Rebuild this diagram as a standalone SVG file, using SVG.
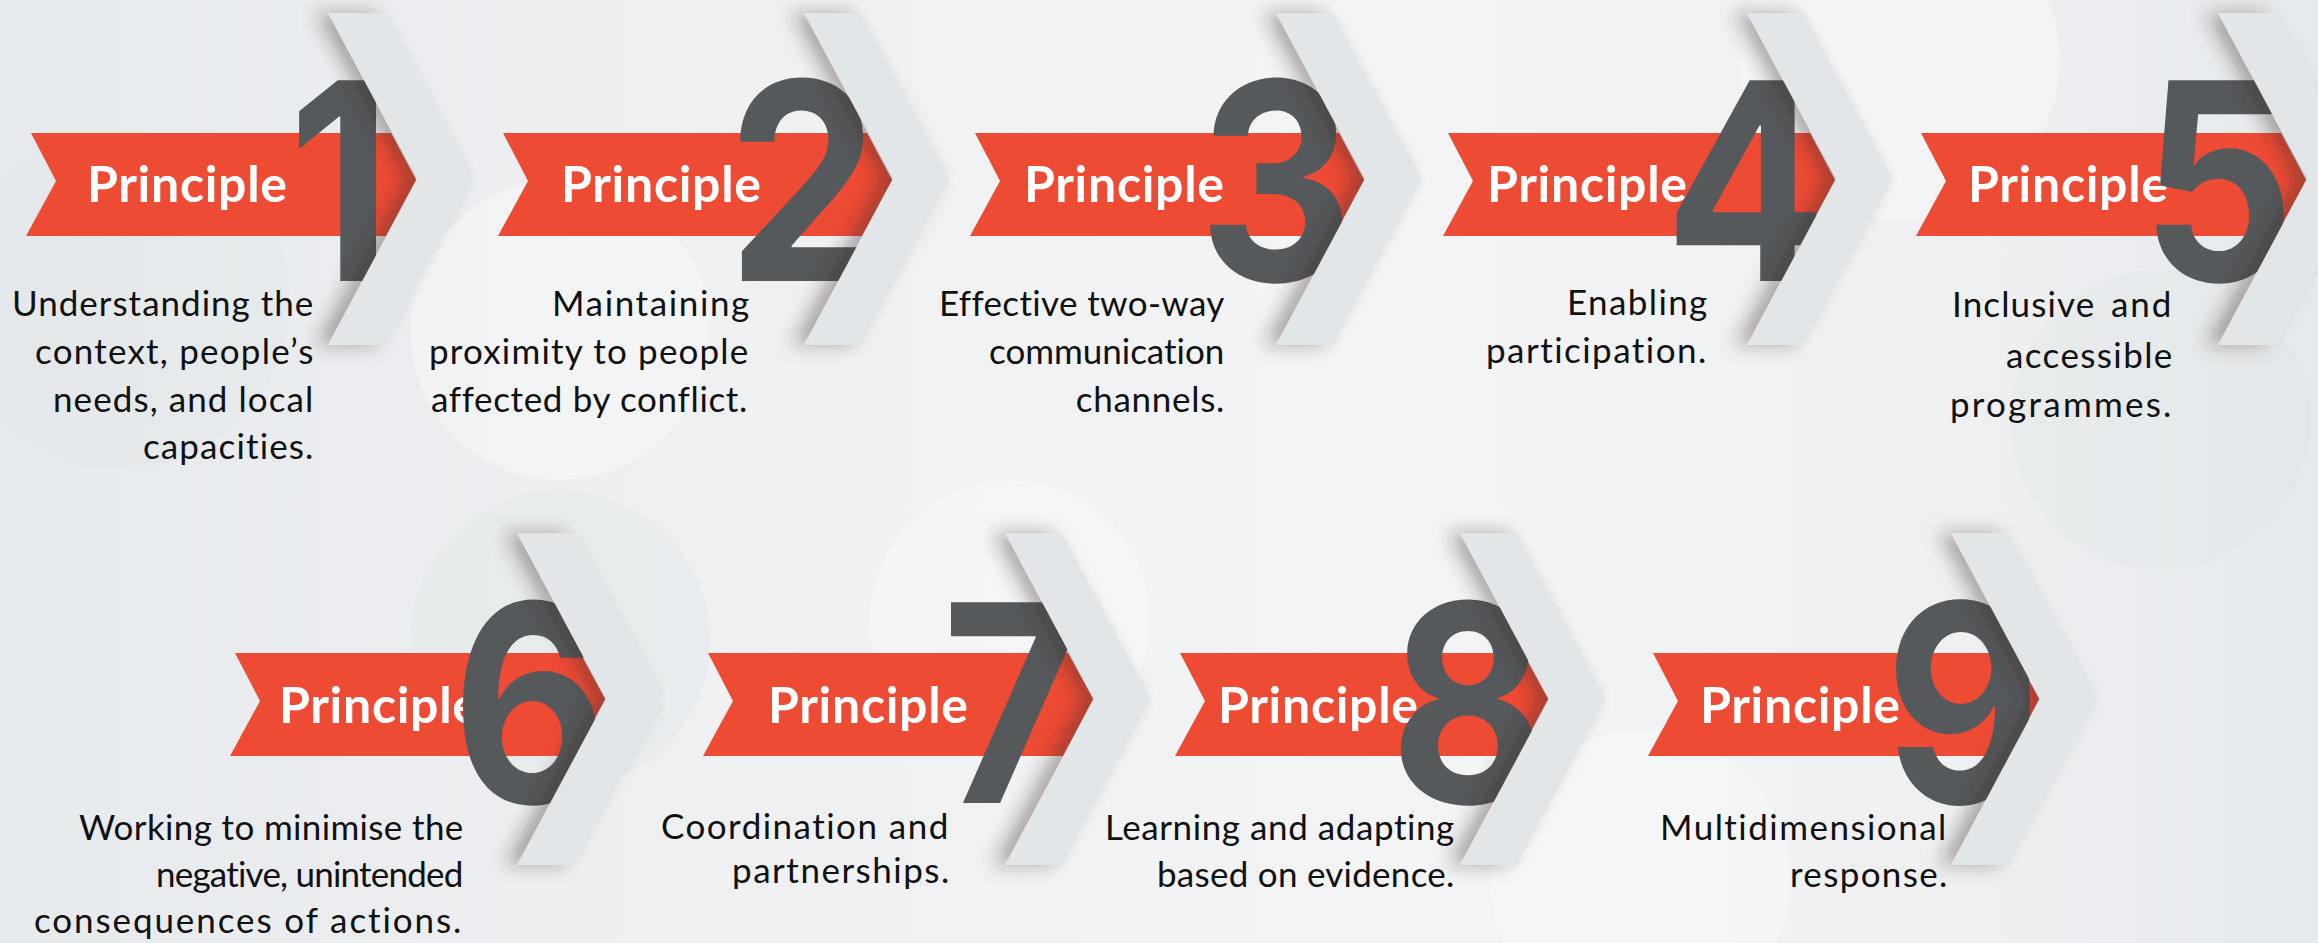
<svg xmlns="http://www.w3.org/2000/svg" width="2318" height="943" viewBox="0 0 2318 943">
  <defs>
    <linearGradient id="bgGrad" x1="0" y1="0" x2="1" y2="0">
      <stop offset="0" stop-color="#e7eaed"/>
      <stop offset="0.3" stop-color="#eef0f2"/>
      <stop offset="0.6" stop-color="#f3f4f5"/>
      <stop offset="0.85" stop-color="#eef0f2"/>
      <stop offset="1" stop-color="#e6e9ec"/>
    </linearGradient>
    <filter id="chevShadow" x="-40%" y="-10%" width="170%" height="120%">
      <feGaussianBlur in="SourceAlpha" stdDeviation="9"/>
      <feOffset dx="-12" dy="0" result="blur"/>
      <feFlood flood-color="#3a2826" flood-opacity="0.38"/>
      <feComposite in2="blur" operator="in"/>
      <feMerge>
        <feMergeNode/>
        <feMergeNode in="SourceGraphic"/>
      </feMerge>
    </filter>
    <!-- chevron drawn from its top-left corner -->
    <path id="chev" d="M0,0 L57,0 L146,166 L57,332 L0,332 L89,166 Z"/>
  </defs>
  <style>
    .ribbon { fill: #ee4b35; }
    .label { font-family: Lato, "Open Sans", sans-serif; font-weight: 700; font-size: 50px; fill: #ffffff; }
    .num { font-family: Inter, "Open Sans", sans-serif; font-weight: 700; font-size: 276px; fill: #55595c; text-anchor: middle; }
    .desc { font-family: Lato, "Liberation Sans", sans-serif; font-size: 35px; letter-spacing: 0.7px; fill: #111111; text-anchor: end; }
    .chev { fill: #e3e6e8; filter: url(#chevShadow); }
    .deco-light { fill: #ffffff; opacity: 0.3; }
    .deco-dark { fill: #dfe3e6; opacity: 0.3; }
  </style>

  <!-- backdrop -->
  <rect x="0" y="0" width="2318" height="943" fill="url(#bgGrad)"/>
  <g id="backdrop-shapes">
    <circle class="deco-light" cx="560" cy="330" r="150"/>
    <circle class="deco-dark" cx="560" cy="640" r="150"/>
    <circle class="deco-light" cx="1010" cy="620" r="140"/>
    <circle class="deco-light" cx="1900" cy="60" r="160"/>
    <circle class="deco-dark" cx="2160" cy="420" r="150"/>
    <circle class="deco-light" cx="1640" cy="880" r="150"/>
    <circle class="deco-dark" cx="120" cy="300" r="170"/>
  </g>

  <!-- principle 1 -->
  <g id="principle-1">
    <path class="ribbon" d="M31,133 H391 L416,180 L386,236 H26 L56,181 Z"/>
    <text class="label" x="87" y="202" textLength="200">Principle</text>
    <text class="num" transform="translate(340,281) scale(0.87,1)">1</text>
    <text class="desc" x="314" y="316" textLength="302">Understanding the</text>
    <text class="desc" x="314" y="364" textLength="279">context, people’s</text>
    <text class="desc" x="314" y="412" textLength="261">needs, and local</text>
    <text class="desc" x="314" y="459" textLength="171">capacities.</text>
  </g>

  <!-- principle 2 -->
  <g id="principle-2">
    <path class="ribbon" d="M503,133 H867 L892,180 L862,236 H498 L528,181 Z"/>
    <text class="label" x="561" y="202" textLength="200">Principle</text>
    <text class="num" transform="translate(803,281) scale(0.87,1)">2</text>
    <text class="desc" x="750" y="316" textLength="198">Maintaining</text>
    <text class="desc" x="749" y="364" textLength="320">proximity to people</text>
    <text class="desc" x="748" y="412" textLength="317">affected by conflict.</text>
  </g>

  <!-- principle 3 -->
  <g id="principle-3">
    <path class="ribbon" d="M975,133 H1339 L1364,180 L1334,236 H970 L1000,181 Z"/>
    <text class="label" x="1024" y="202" textLength="200">Principle</text>
    <text class="num" transform="translate(1276,281) scale(0.87,1)">3</text>
    <text class="desc" x="1225" y="316" textLength="286">Effective two-way</text>
    <text class="desc" x="1225" y="364" textLength="236">communication</text>
    <text class="desc" x="1225" y="412">channels.</text>
  </g>

  <!-- principle 4 -->
  <g id="principle-4">
    <path class="ribbon" d="M1448,133 H1810 L1835,180 L1805,236 H1443 L1473,181 Z"/>
    <text class="label" x="1487" y="202" textLength="200">Principle</text>
    <text class="num" transform="translate(1746,281) scale(0.87,1)">4</text>
    <text class="desc" x="1708" y="315" textLength="141">Enabling</text>
    <text class="desc" x="1707" y="363" textLength="221">participation.</text>
  </g>

  <!-- principle 5 -->
  <g id="principle-5">
    <path class="ribbon" d="M1921,133 H2281 L2306,180 L2276,236 H1916 L1946,181 Z"/>
    <text class="label" x="1968" y="202" textLength="200">Principle</text>
    <text class="num" transform="translate(2218,281) scale(0.87,1)">5</text>
    <text class="desc" y="317"><tspan x="1952" text-anchor="start" textLength="143">Inclusive</tspan><tspan x="2172" textLength="61">and</tspan></text>
    <text class="desc" x="2173" y="368" textLength="167">accessible</text>
    <text class="desc" x="2172" y="417" textLength="222">programmes.</text>
  </g>

  <!-- principle 6 -->
  <g id="principle-6">
    <path class="ribbon" d="M235,653 H580 L605,699 L575,756 H230 L260,701 Z"/>
    <text class="label" x="279" y="723" textLength="200">Principle</text>
    <text class="num" transform="translate(530,803) scale(0.87,1)">6</text>
    <text class="desc" x="464" y="840" textLength="385">Working to minimise the</text>
    <text class="desc" x="464" y="887" textLength="308">negative, unintended</text>
    <text class="desc" x="462" y="933" textLength="428">consequences of actions.</text>
  </g>

  <!-- principle 7 -->
  <g id="principle-7">
    <path class="ribbon" d="M708,653 H1068 L1093,699 L1063,756 H703 L733,701 Z"/>
    <text class="label" x="768" y="723" textLength="200">Principle</text>
    <text class="num" transform="translate(1012,803) scale(0.87,1)">7</text>
    <text class="desc" x="949" y="839" textLength="288">Coordination and</text>
    <text class="desc" x="950" y="883" textLength="218">partnerships.</text>
  </g>

  <!-- principle 8 -->
  <g id="principle-8">
    <path class="ribbon" d="M1180,653 H1523 L1548,699 L1518,756 H1175 L1205,701 Z"/>
    <text class="label" x="1218" y="723" textLength="200">Principle</text>
    <text class="num" transform="translate(1468,803) scale(0.87,1)">8</text>
    <text class="desc" x="1455" y="840" textLength="350">Learning and adapting</text>
    <text class="desc" x="1455" y="887" textLength="298">based on evidence.</text>
  </g>

  <!-- principle 9 -->
  <g id="principle-9">
    <path class="ribbon" d="M1653,653 H2014 L2039,699 L2009,756 H1648 L1678,701 Z"/>
    <text class="label" x="1700" y="723" textLength="200">Principle</text>
    <text class="num" transform="translate(1963,803) scale(0.87,1)">9</text>
    <text class="desc" x="1947" y="840" textLength="287">Multidimensional</text>
    <text class="desc" x="1948" y="887" textLength="158">response.</text>
  </g>

  <!-- chevrons leading from each principle to the next -->
  <g id="connectors">
    <use href="#chev" class="chev" x="328" y="13"/>
    <use href="#chev" class="chev" x="804" y="13"/>
    <use href="#chev" class="chev" x="1276" y="13"/>
    <use href="#chev" class="chev" x="1747" y="13"/>
    <use href="#chev" class="chev" x="2218" y="13"/>
    <use href="#chev" class="chev" x="517" y="533"/>
    <use href="#chev" class="chev" x="1005" y="533"/>
    <use href="#chev" class="chev" x="1460" y="533"/>
    <use href="#chev" class="chev" x="1951" y="533"/>
  </g>
</svg>
